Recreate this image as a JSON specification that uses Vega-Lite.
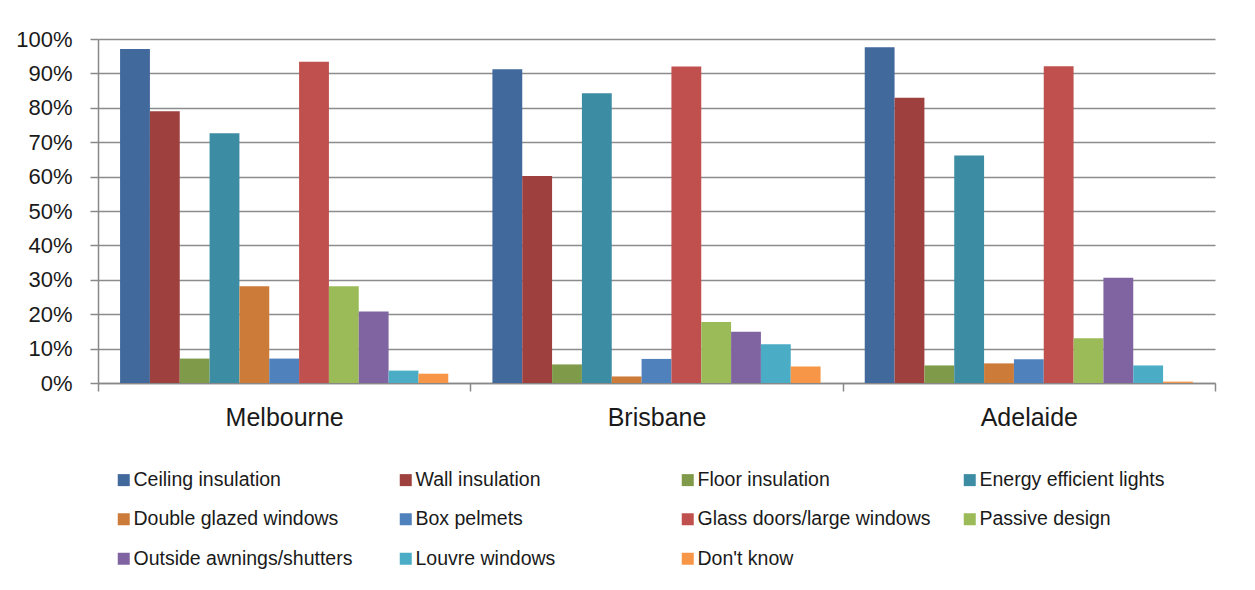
{
  "$schema": "https://vega.github.io/schema/vega-lite/v6.json",
  "autosize": {"type": "none"},
  "width": 1117,
  "height": 344,
  "padding": {"left": 98, "top": 39, "right": 40, "bottom": 207},
  "background": "#ffffff",
  "config": {
    "view": {"stroke": null},
    "font": "Liberation Sans",
    "axis": {"labelFont": "Liberation Sans", "labelColor": "#1a1a1a", "domainColor": "#888888", "tickColor": "#888888", "gridColor": "#8c8c8c"},
    "legend": {"labelFont": "Liberation Sans", "labelColor": "#1a1a1a"}
  },
  "data": {
    "values": [
      {"city": "Melbourne", "item": "Ceiling insulation", "value": 0.971},
      {"city": "Melbourne", "item": "Wall insulation", "value": 0.790},
      {"city": "Melbourne", "item": "Floor insulation", "value": 0.071},
      {"city": "Melbourne", "item": "Energy efficient lights", "value": 0.726},
      {"city": "Melbourne", "item": "Double glazed windows", "value": 0.281},
      {"city": "Melbourne", "item": "Box pelmets", "value": 0.071},
      {"city": "Melbourne", "item": "Glass doors/large windows", "value": 0.934},
      {"city": "Melbourne", "item": "Passive design", "value": 0.281},
      {"city": "Melbourne", "item": "Outside awnings/shutters", "value": 0.208},
      {"city": "Melbourne", "item": "Louvre windows", "value": 0.036},
      {"city": "Melbourne", "item": "Don't know", "value": 0.027},
      {"city": "Brisbane", "item": "Ceiling insulation", "value": 0.912},
      {"city": "Brisbane", "item": "Wall insulation", "value": 0.602},
      {"city": "Brisbane", "item": "Floor insulation", "value": 0.054},
      {"city": "Brisbane", "item": "Energy efficient lights", "value": 0.842},
      {"city": "Brisbane", "item": "Double glazed windows", "value": 0.019},
      {"city": "Brisbane", "item": "Box pelmets", "value": 0.070},
      {"city": "Brisbane", "item": "Glass doors/large windows", "value": 0.920},
      {"city": "Brisbane", "item": "Passive design", "value": 0.177},
      {"city": "Brisbane", "item": "Outside awnings/shutters", "value": 0.149},
      {"city": "Brisbane", "item": "Louvre windows", "value": 0.113},
      {"city": "Brisbane", "item": "Don't know", "value": 0.048},
      {"city": "Adelaide", "item": "Ceiling insulation", "value": 0.976},
      {"city": "Adelaide", "item": "Wall insulation", "value": 0.829},
      {"city": "Adelaide", "item": "Floor insulation", "value": 0.051},
      {"city": "Adelaide", "item": "Energy efficient lights", "value": 0.661},
      {"city": "Adelaide", "item": "Double glazed windows", "value": 0.057},
      {"city": "Adelaide", "item": "Box pelmets", "value": 0.069},
      {"city": "Adelaide", "item": "Glass doors/large windows", "value": 0.921},
      {"city": "Adelaide", "item": "Passive design", "value": 0.130},
      {"city": "Adelaide", "item": "Outside awnings/shutters", "value": 0.306},
      {"city": "Adelaide", "item": "Louvre windows", "value": 0.051},
      {"city": "Adelaide", "item": "Don't know", "value": 0.004}
    ]
  },
  "mark": {"type": "bar"},
  "encoding": {
    "x": {
      "field": "city", "type": "nominal",
      "sort": ["Melbourne", "Brisbane", "Adelaide"],
      "scale": {"paddingInner": 0, "paddingOuter": 0},
      "axis": {"title": null, "labelAngle": 0, "labelFontSize": 25, "labelPadding": 14, "tickBand": "extent", "tickSize": 8, "tickWidth": 1.5, "domainWidth": 1.5}
    },
    "xOffset": {
      "field": "item", "type": "nominal",
      "sort": ["Ceiling insulation", "Wall insulation", "Floor insulation", "Energy efficient lights", "Double glazed windows", "Box pelmets", "Glass doors/large windows", "Passive design", "Outside awnings/shutters", "Louvre windows", "Don't know"],
      "scale": {"paddingInner": 0, "paddingOuter": 0.74}
    },
    "y": {
      "field": "value", "type": "quantitative",
      "scale": {"domain": [0, 1], "nice": false},
      "axis": {"title": null, "format": ".0%", "values": [0, 0.1, 0.2, 0.3, 0.4, 0.5, 0.6, 0.7, 0.8, 0.9, 1], "labelFontSize": 22, "labelPadding": 18, "tickSize": 8, "tickWidth": 1.5, "gridWidth": 1.5, "domainWidth": 1.5, "labelBaseline": "middle"}
    },
    "color": {
      "field": "item", "type": "nominal",
      "sort": ["Ceiling insulation", "Wall insulation", "Floor insulation", "Energy efficient lights", "Double glazed windows", "Box pelmets", "Glass doors/large windows", "Passive design", "Outside awnings/shutters", "Louvre windows", "Don't know"],
      "scale": {
        "domain": ["Ceiling insulation", "Wall insulation", "Floor insulation", "Energy efficient lights", "Double glazed windows", "Box pelmets", "Glass doors/large windows", "Passive design", "Outside awnings/shutters", "Louvre windows", "Don't know"],
        "range": ["#41699C", "#9D403E", "#7F9A48", "#3C8CA3", "#CC7B38", "#4F81BD", "#C0504D", "#9BBB59", "#8064A2", "#4BACC6", "#F79646"]
      },
      "legend": {
        "title": null,
        "orient": "none",
        "legendX": 16,
        "legendY": 431,
        "direction": "horizontal",
        "columns": 4,
        "gridAlign": "all",
        "columnPadding": 29,
        "rowPadding": 18.5,
        "padding": 0,
        "symbolType": "square",
        "symbolSize": 144,
        "symbolStrokeWidth": 0,
        "symbolOpacity": 1,
        "labelOffset": 0,
        "labelFontSize": 19.5,
        "labelLimit": 400
      }
    }
  }
}
